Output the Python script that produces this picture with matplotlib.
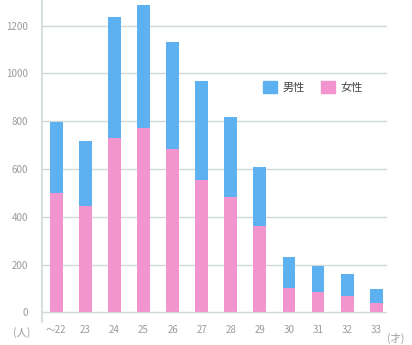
import numpy as np
import matplotlib
matplotlib.use('Agg')
import matplotlib.pyplot as plt
from matplotlib.patches import Patch

plt.rcParams['font.family'] = ['Noto Sans CJK JP', 'DejaVu Sans']

# age categories and counts (people)
ages = ['〜22', '23', '24', '25', '26', '27', '28', '29', '30', '31', '32', '33']
female = [500, 446, 730, 772, 684, 554, 483, 362, 104, 84, 67, 38]
male = [297, 272, 506, 515, 448, 413, 335, 246, 127, 109, 93, 62]
yticks = [0, 200, 400, 600, 800, 1000, 1200]

blue = '#5eb1f0'
pink = '#f294cd'
grid_c = '#cfd9d6'
label_c = '#9a9a9a'

fig = plt.figure(figsize=(4.12, 3.45), dpi=100)
ax = fig.add_axes([42 / 412, 1 - 322 / 345, 345 / 412, 322 / 345])

x = np.arange(len(ages))
ax.bar(x, female, width=0.44, color=pink, zorder=3)
ax.bar(x, male, width=0.44, bottom=female, color=blue, zorder=3)

for v in yticks:
    ax.axhline(v, color=grid_c, lw=1.0, zorder=1)

ax.set_xlim(-0.49, len(ages) - 1 + 0.37)
ax.set_ylim(-40, 1307)
ax.set_xticks(x)
ax.set_xticklabels(ages)
ax.set_yticks(yticks)
ax.tick_params(axis='both', length=0, labelsize=7, labelcolor=label_c)
ax.tick_params(axis='y', pad=10)
ax.tick_params(axis='x', pad=2)

for s in ['top', 'right', 'bottom']:
    ax.spines[s].set_visible(False)
ax.spines['left'].set_color(grid_c)
ax.spines['left'].set_linewidth(1.2)

# unit labels
fig.text(13 / 412, 1 - 333 / 345, '(人)', fontsize=7.5, color=label_c, va='center', ha='left')
fig.text(387 / 412, 1 - 338 / 345, '(才)', fontsize=7.5, color=label_c, va='center', ha='left')

handles = [Patch(color=blue, label='男性'), Patch(color=pink, label='女性')]
ax.legend(handles=handles, ncol=2, frameon=False, loc='upper left',
          bbox_to_anchor=(263 / 412, 1 - 81 / 345), bbox_transform=fig.transFigure,
          borderpad=0, borderaxespad=0, handlelength=1.3, handleheight=1.3,
          handletextpad=0.5, columnspacing=1.4, fontsize=8, labelcolor='#444444')

plt.savefig('out.png', dpi=100)
